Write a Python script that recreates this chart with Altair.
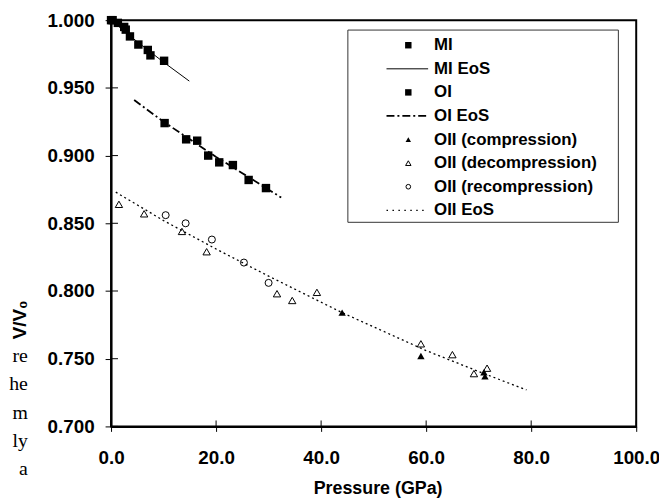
import altair as alt
import pandas as pd

# ---------------- data ----------------
mi_p = [0.0, 0.3, 1.3, 2.5, 2.8, 3.6, 5.2, 7.0, 7.5, 10.1]
mi_v = [1.000, 1.000, 0.998, 0.995, 0.993, 0.988, 0.982, 0.978, 0.974, 0.970]
mi_eos_p = [0.0, 5.0, 10.0, 14.9]
mi_eos_v = [1.000, 0.984, 0.969, 0.955]

oi_p = [10.2, 14.3, 16.4, 18.5, 20.6, 23.2, 26.2, 29.5]
oi_v = [0.924, 0.912, 0.911, 0.900, 0.895, 0.893, 0.882, 0.876]
oi_eos_p = [4.4, 10.0, 15.0, 20.0, 25.0, 32.4]
oi_eos_v = [0.941, 0.925, 0.912, 0.899, 0.887, 0.869]

oii_c_p = [44.0, 59.0, 71.0, 71.2]
oii_c_v = [0.784, 0.752, 0.740, 0.737]
oii_d_p = [1.5, 6.3, 13.5, 18.2, 31.6, 34.5, 39.2, 59.0, 65.0, 69.1, 71.6]
oii_d_v = [0.864, 0.857, 0.844, 0.829, 0.798, 0.793, 0.799, 0.761, 0.753, 0.739, 0.743]
oii_r_p = [10.4, 14.2, 19.2, 25.3, 30.0]
oii_r_v = [0.856, 0.850, 0.838, 0.821, 0.806]
oii_eos_p = [0.9, 10.0, 20.0, 30.0, 44.0, 60.0, 71.0, 79.1]
oii_eos_v = [0.873, 0.852, 0.831, 0.811, 0.784, 0.756, 0.739, 0.727]

x_ticks = [0, 20, 40, 60, 80, 100]
y_ticks = [0.70, 0.75, 0.80, 0.85, 0.90, 0.95, 1.00]

legend_labels = ["MI", "MI EoS", "OI", "OI EoS", "OII (compression)",
                 "OII (decompression)", "OII (recompression)", "OII EoS"]

side_text = ["re", "he", "m", "ly", "a"]

# ---------------- styling ----------------
FONT = "Liberation Sans"
W, H = 530, 410

X = alt.X("P:Q", scale=alt.Scale(domain=[0, 100], nice=False, zero=False),
          axis=alt.Axis(values=x_ticks, format=".1f", title="Pressure (GPa)",
                        grid=False, tickSize=5, tickColor="black", tickWidth=1,
                        domainColor="black", domainWidth=2, labelFlush=False,
                        labelFont=FONT, labelFontWeight="bold", labelFontSize=19,
                        labelColor="black", labelPadding=17,
                        titleFont=FONT, titleFontWeight="bold", titleFontSize=18,
                        titleColor="black", titleX=269, titleY=63,
                        titleAlign="center", titleBaseline="middle"))
Y = alt.Y("V:Q", scale=alt.Scale(domain=[0.7, 1.0], nice=False, zero=False),
          axis=alt.Axis(values=y_ticks, format=".3f", title="V/V₀",
                        grid=False, tickSize=6, tickColor="black", tickWidth=1,
                        domainColor="black", domainWidth=2, labelFlush=False,
                        labelFont=FONT, labelFontWeight="bold", labelFontSize=19,
                        labelColor="black", labelPadding=11,
                        titleFont=FONT, titleFontWeight="bold", titleFontSize=19,
                        titleColor="black", titleAngle=270, titleX=-92, titleY=302,
                        titleAlign="center", titleBaseline="middle"))


def df(p, v):
    return pd.DataFrame({"P": p, "V": v})


layers = []
# EoS lines
layers.append(alt.Chart(df(mi_eos_p, mi_eos_v)).mark_line(color="black", strokeWidth=1)
              .encode(x=X, y=Y))
layers.append(alt.Chart(df(oi_eos_p, oi_eos_v)).mark_line(color="black", strokeWidth=1.8,
                                                           strokeDash=[8, 3, 2, 3])
              .encode(x=X, y=Y))
layers.append(alt.Chart(df(oii_eos_p, oii_eos_v)).mark_line(color="black", strokeWidth=1.3,
                                                             strokeDash=[2, 3])
              .encode(x=X, y=Y))
# points
layers.append(alt.Chart(df(mi_p, mi_v)).mark_point(shape="square", filled=True, color="black",
                                                   size=72, opacity=1).encode(x=X, y=Y))
layers.append(alt.Chart(df(oi_p, oi_v)).mark_point(shape="square", filled=True, color="black",
                                                   size=72, opacity=1).encode(x=X, y=Y))
layers.append(alt.Chart(df(oii_d_p, oii_d_v)).mark_point(shape="triangle-up", filled=False,
                                                         color="black", size=55, strokeWidth=1,
                                                         opacity=1).encode(x=X, y=Y))
layers.append(alt.Chart(df(oii_r_p, oii_r_v)).mark_point(shape="circle", filled=False,
                                                         color="black", size=50, strokeWidth=1,
                                                         opacity=1).encode(x=X, y=Y))
layers.append(alt.Chart(df(oii_c_p, oii_c_v)).mark_point(shape="triangle-up", filled=True,
                                                         color="black", size=55,
                                                         opacity=1).encode(x=X, y=Y))

# inner halves of the crossing tick marks
layers.append(alt.Chart(pd.DataFrame({"V": y_ticks})).mark_rule(color="black", strokeWidth=1)
              .encode(y=Y, x=alt.value(0), x2=alt.value(7)))
layers.append(alt.Chart(pd.DataFrame({"P": x_ticks})).mark_rule(color="black", strokeWidth=1)
              .encode(x=X, y=alt.value(H - 6), y2=alt.value(H)))

# manual legend
LX0, LX1, LY0, LY1 = 239, 512, 10, 204
layers.append(alt.Chart(pd.DataFrame({"a": [0]})).mark_rect(fill="white", stroke="#333333",
                                                            strokeWidth=1)
              .encode(x=alt.value(LX0), x2=alt.value(LX1), y=alt.value(LY0), y2=alt.value(LY1)))

row0, dy = 25.3, 23.8
sym_x, line_x0, line_x1, text_x = 300, 278, 320, 326
one = pd.DataFrame({"a": [0]})
for i, lab in enumerate(legend_labels):
    yy = row0 + i * dy
    if lab in ("MI", "OI"):
        layers.append(alt.Chart(one).mark_point(shape="square", filled=True, color="black",
                                                size=42, opacity=1)
                      .encode(x=alt.value(sym_x), y=alt.value(yy)))
    elif lab == "MI EoS":
        layers.append(alt.Chart(one).mark_rule(color="black", strokeWidth=1)
                      .encode(x=alt.value(line_x0), x2=alt.value(line_x1), y=alt.value(yy)))
    elif lab == "OI EoS":
        layers.append(alt.Chart(one).mark_rule(color="black", strokeWidth=1.8,
                                               strokeDash=[8, 3, 2, 3])
                      .encode(x=alt.value(line_x0), x2=alt.value(line_x1), y=alt.value(yy)))
    elif lab == "OII EoS":
        layers.append(alt.Chart(one).mark_rule(color="black", strokeWidth=1.3,
                                               strokeDash=[1.5, 4.5])
                      .encode(x=alt.value(line_x0), x2=alt.value(line_x1), y=alt.value(yy)))
    elif lab == "OII (compression)":
        layers.append(alt.Chart(one).mark_point(shape="triangle-up", filled=True, color="black",
                                                size=30, opacity=1)
                      .encode(x=alt.value(sym_x), y=alt.value(yy)))
    elif lab == "OII (decompression)":
        layers.append(alt.Chart(one).mark_point(shape="triangle-up", filled=False, color="black",
                                                size=30, strokeWidth=1, opacity=1)
                      .encode(x=alt.value(sym_x), y=alt.value(yy)))
    elif lab == "OII (recompression)":
        layers.append(alt.Chart(one).mark_point(shape="circle", filled=False, color="black",
                                                size=22, strokeWidth=1, opacity=1)
                      .encode(x=alt.value(sym_x), y=alt.value(yy)))
    layers.append(alt.Chart(one).mark_text(text=lab, font=FONT, fontWeight="bold", fontSize=17,
                                           align="left", baseline="middle", color="black")
                  .encode(x=alt.value(text_x), y=alt.value(yy)))

# text fragments at the left edge of the page (kept fully visible)
for i, t in enumerate(side_text):
    layers.append(alt.Chart(one).mark_text(text=t, font="Liberation Serif", fontSize=20,
                                           align="right", baseline="alphabetic", color="black")
                  .encode(x=alt.value(-84), y=alt.value(345 + i * 28.6)))

chart = alt.layer(*layers).properties(
    width=W, height=H,
    padding={"left": 104, "top": 10, "right": 23, "bottom": 74},
    autosize=alt.AutoSizeParams(type="none"),
    background="white",
).configure_view(stroke="black", strokeWidth=2)

chart.save("out.html", embed_options={"renderer": "svg", "actions": False})
